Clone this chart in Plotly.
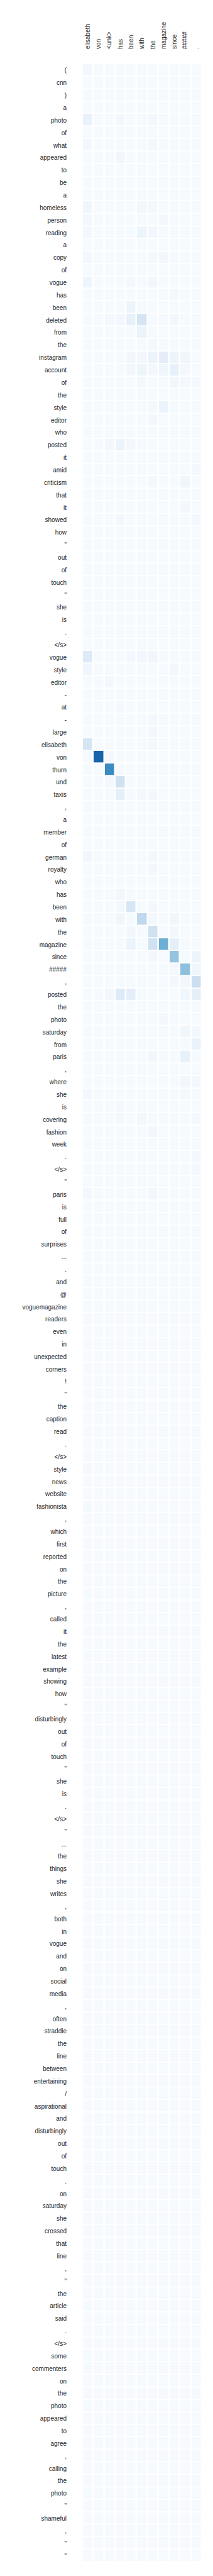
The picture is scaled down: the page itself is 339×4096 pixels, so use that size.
import plotly.graph_objects as go

# Summary tokens (columns) and article tokens (rows)
summary_tokens = ["elisabeth", "von", "&lt;unk&gt;", "has", "been", "with", "the",
                  "magazine", "since", "#####", "."]

article_tokens = [
    "(", "cnn", ")", "a", "photo", "of",
    "what", "appeared", "to", "be", "a", "homeless", "person", "reading", "a", "copy", "of",
    "vogue", "has", "been", "deleted", "from", "the", "instagram", "account",
    "of", "the", "style", "editor", "who", "posted", "it", "amid", "criticism", "that", "it",
    "showed", "how", "\"", "out", "of", "touch", "\"",
    "she", "is", ".", "&lt;/s&gt;", "vogue", "style", "editor", "-", "at", "-", "large",
    "elisabeth", "von", "thurn", "und", "taxis", ",", "a", "member",
    "of", "german", "royalty", "who", "has", "been", "with", "the", "magazine", "since",
    "#####", ",", "posted", "the", "photo", "saturday", "from", "paris", ",",
    "where", "she", "is", "covering", "fashion", "week", ".", "&lt;/s&gt;", "\"", "paris",
    "is", "full", "of", "surprises", "...", ".", "and", "@", "voguemagazine",
    "readers", "even", "in", "unexpected", "corners", "!", "\"", "the", "caption", "read",
    ".", "&lt;/s&gt;", "style", "news", "website", "fashionista", ",", "which",
    "first", "reported", "on", "the", "picture", ",", "called", "it", "the", "latest",
    "example", "showing", "how", "\"", "disturbingly", "out", "of", "touch", "\"",
    "she", "is", ".", "&lt;/s&gt;", "\"", "...", "the", "things", "she", "writes", ",",
    "both", "in", "vogue", "and", "on", "social", "media", ",",
    "often", "straddle", "the", "line", "between", "entertaining", "/", "aspirational",
    "and", "disturbingly", "out", "of", "touch", ".", "on", "saturday", "she", "crossed",
    "that", "line", ",", "\"", "the", "article", "said", ".", "&lt;/s&gt;",
    "some", "commenters", "on", "the", "photo", "appeared", "to", "agree", ",", "calling",
    "the", "photo", "\"", "shameful", ",", "\"", "\"",
]

# attention weights, in thousandths (one row per article token)
attention = [
    [20, 10, 10, 10, 10, 10, 10, 10, 10, 10, 10],   # (
    [10, 10, 10, 10, 10, 10, 10, 10, 10, 10, 10],   # cnn
    [10, 10, 10, 10, 10, 10, 10, 10, 10, 10, 10],   # )
    [10, 10, 10, 10, 10, 10, 10, 10, 10, 10, 10],   # a
    [70, 10, 10, 20, 10, 10, 20, 10, 10, 10, 10],   # photo
    [10, 10, 10, 10, 10, 10, 10, 10, 10, 10, 10],   # of
    [20, 10, 10, 10, 10, 10, 20, 10, 10, 10, 10],   # what
    [10, 10, 10, 30, 10, 10, 10, 10, 10, 10, 10],   # appeared
    [10, 10, 10, 10, 10, 10, 10, 10, 10, 10, 10],   # to
    [10, 10, 10, 10, 10, 10, 10, 10, 10, 10, 10],   # be
    [10, 10, 10, 10, 10, 10, 10, 10, 10, 10, 10],   # a
    [40, 10, 10, 10, 10, 30, 20, 10, 10, 10, 10],   # homeless
    [20, 10, 10, 10, 10, 10, 10, 20, 10, 10, 10],   # person
    [20, 10, 10, 10, 10, 50, 30, 10, 10, 10, 10],   # reading
    [10, 10, 10, 10, 10, 10, 10, 10, 10, 10, 10],   # a
    [20, 10, 10, 10, 10, 10, 20, 30, 10, 10, 10],   # copy
    [10, 10, 10, 10, 10, 10, 10, 10, 10, 10, 10],   # of
    [50, 10, 10, 10, 20, 10, 30, 10, 10, 10, 10],   # vogue
    [10, 10, 10, 10, 10, 10, 10, 10, 20, 10, 10],   # has
    [10, 10, 10, 10, 50, 10, 10, 10, 10, 10, 10],   # been
    [10, 10, 20, 30, 80, 170, 10, 10, 30, 10, 10],  # deleted
    [10, 10, 10, 10, 10, 60, 10, 10, 10, 10, 10],   # from
    [10, 10, 10, 10, 10, 10, 20, 10, 10, 10, 10],   # the
    [10, 10, 10, 10, 30, 30, 60, 100, 50, 40, 10],  # instagram
    [10, 10, 10, 10, 30, 50, 20, 40, 80, 20, 10],   # account
    [10, 10, 10, 10, 10, 20, 10, 10, 40, 20, 20],   # of
    [10, 10, 10, 10, 10, 10, 10, 10, 10, 10, 10],   # the
    [10, 10, 10, 10, 10, 10, 20, 60, 10, 10, 10],   # style
    [10, 10, 10, 10, 10, 10, 20, 10, 10, 10, 10],   # editor
    [10, 10, 10, 10, 10, 10, 10, 10, 10, 10, 10],   # who
    [10, 10, 30, 60, 20, 10, 10, 10, 10, 10, 10],   # posted
    [10, 10, 10, 10, 10, 10, 10, 10, 10, 10, 10],   # it
    [10, 10, 10, 10, 10, 10, 10, 10, 10, 10, 20],   # amid
    [10, 10, 10, 10, 10, 10, 20, 10, 10, 40, 10],   # criticism
    [10, 10, 10, 10, 10, 10, 10, 10, 10, 10, 10],   # that
    [10, 10, 10, 10, 10, 10, 10, 10, 10, 20, 10],   # it
    [10, 10, 10, 20, 10, 10, 10, 10, 10, 10, 20],   # showed
    [10, 10, 10, 10, 10, 10, 10, 10, 10, 10, 10],   # how
    [10, 10, 10, 10, 10, 10, 10, 10, 10, 10, 10],   # "
    [10, 10, 10, 10, 10, 10, 10, 10, 10, 10, 10],   # out
    [10, 10, 10, 10, 10, 10, 10, 10, 10, 10, 10],   # of
    [10, 10, 10, 10, 10, 10, 10, 10, 10, 10, 10],   # touch
    [10, 10, 10, 10, 10, 10, 10, 10, 10, 10, 10],   # "
    [10, 10, 10, 10, 10, 10, 10, 10, 10, 10, 10],   # she
    [10, 10, 10, 10, 10, 10, 10, 10, 10, 10, 10],   # is
    [10, 10, 10, 10, 10, 10, 10, 10, 10, 10, 10],   # .
    [10, 10, 10, 10, 10, 10, 10, 10, 10, 10, 10],   # </s>
    [130, 10, 10, 10, 20, 30, 40, 10, 10, 10, 10],  # vogue
    [40, 10, 10, 10, 10, 10, 10, 10, 30, 10, 10],   # style
    [10, 10, 20, 10, 10, 10, 10, 10, 10, 10, 10],   # editor
    [10, 10, 10, 10, 10, 10, 10, 10, 10, 10, 10],   # -
    [10, 10, 10, 20, 10, 10, 10, 10, 10, 10, 10],   # at
    [10, 10, 10, 10, 10, 10, 20, 10, 10, 10, 10],   # -
    [10, 10, 10, 10, 10, 10, 20, 10, 10, 10, 10],   # large
    [170, 10, 10, 10, 10, 10, 20, 10, 10, 10, 10],  # elisabeth
    [10, 800, 20, 10, 10, 10, 10, 10, 10, 10, 10],  # von
    [10, 10, 650, 10, 10, 10, 10, 10, 10, 10, 10],  # thurn
    [10, 10, 20, 200, 10, 10, 10, 10, 10, 10, 10],  # und
    [10, 10, 10, 90, 10, 20, 20, 10, 10, 10, 10],   # taxis
    [10, 10, 10, 10, 10, 10, 10, 10, 10, 10, 10],   # ,
    [10, 10, 10, 10, 10, 10, 10, 10, 10, 10, 10],   # a
    [10, 10, 10, 10, 10, 10, 10, 10, 10, 10, 10],   # member
    [10, 10, 10, 10, 10, 10, 10, 10, 10, 10, 10],   # of
    [30, 10, 10, 10, 10, 10, 20, 10, 10, 10, 10],   # german
    [10, 10, 10, 10, 10, 10, 20, 10, 10, 10, 10],   # royalty
    [10, 10, 10, 10, 10, 10, 10, 10, 10, 10, 10],   # who
    [10, 10, 10, 30, 10, 10, 10, 10, 10, 10, 10],   # has
    [10, 10, 10, 20, 160, 10, 20, 10, 10, 10, 10],  # been
    [10, 10, 10, 40, 10, 270, 20, 10, 40, 10, 10],  # with
    [10, 10, 10, 10, 30, 10, 200, 10, 20, 10, 10],  # the
    [10, 10, 10, 10, 60, 10, 200, 500, 90, 10, 10], # magazine
    [10, 10, 10, 10, 10, 10, 20, 10, 400, 10, 50],  # since
    [10, 10, 10, 10, 10, 10, 10, 10, 20, 420, 40],  # #####
    [10, 10, 10, 10, 10, 10, 10, 10, 20, 30, 220],  # ,
    [10, 10, 30, 130, 100, 10, 10, 10, 10, 40, 90], # posted
    [10, 10, 10, 10, 10, 10, 10, 10, 10, 10, 10],   # the
    [10, 10, 10, 10, 10, 10, 10, 20, 10, 10, 10],   # photo
    [10, 10, 10, 10, 10, 10, 10, 10, 10, 40, 20],   # saturday
    [10, 10, 10, 10, 10, 10, 10, 10, 10, 10, 70],   # from
    [10, 10, 10, 10, 10, 10, 30, 10, 10, 80, 10],   # paris
    [10, 10, 10, 10, 10, 10, 10, 10, 10, 10, 10],   # ,
    [10, 10, 10, 10, 10, 10, 10, 10, 10, 30, 20],   # where
    [20, 10, 10, 10, 10, 10, 10, 10, 10, 20, 10],   # she
    [10, 10, 10, 20, 10, 10, 10, 10, 10, 10, 10],   # is
    [10, 10, 10, 20, 10, 30, 10, 10, 10, 10, 20],   # covering
    [10, 10, 10, 10, 10, 10, 30, 10, 10, 10, 10],   # fashion
    [10, 10, 10, 10, 10, 10, 10, 10, 10, 10, 10],   # week
    [10, 10, 10, 10, 10, 10, 10, 10, 10, 10, 20],   # .
    [10, 10, 10, 10, 10, 10, 10, 10, 10, 10, 20],   # </s>
    [10, 10, 10, 10, 10, 10, 10, 10, 10, 10, 10],   # "
    [20, 10, 10, 10, 10, 10, 30, 10, 10, 10, 10],   # paris
    [10, 10, 10, 10, 10, 10, 10, 10, 10, 10, 10],   # is
    [10, 10, 10, 10, 10, 10, 10, 10, 10, 10, 10],   # full
    [10, 10, 10, 10, 10, 10, 10, 10, 10, 10, 10],   # of
    [10, 10, 10, 10, 10, 10, 10, 10, 10, 10, 10],   # surprises
    [10, 10, 10, 10, 10, 10, 10, 10, 10, 10, 10],   # ...
    [10, 10, 10, 10, 10, 10, 10, 10, 10, 10, 10],   # .
    [10, 10, 10, 10, 10, 10, 10, 10, 10, 10, 10],   # and
    [10, 10, 10, 10, 10, 10, 10, 10, 10, 10, 10],   # @
    [10, 10, 10, 10, 10, 10, 10, 10, 10, 10, 10],   # voguemagazine
    [6, 6, 6, 12, 6, 6, 6, 6, 6, 6, 6],             # readers
    [6, 6, 6, 6, 6, 6, 6, 6, 6, 6, 6],              # even
    [6, 6, 6, 6, 6, 6, 6, 6, 6, 6, 6],              # in
    [6, 6, 6, 6, 6, 6, 6, 6, 6, 6, 6],              # unexpected
    [6, 6, 6, 6, 6, 6, 6, 6, 6, 6, 6],              # corners
    [6, 6, 6, 6, 6, 6, 6, 6, 6, 6, 6],              # !
    [6, 6, 6, 6, 6, 6, 6, 6, 6, 6, 6],              # "
    [6, 6, 6, 6, 6, 6, 6, 6, 6, 6, 6],              # the
    [6, 6, 6, 6, 6, 6, 6, 6, 6, 6, 6],              # caption
    [6, 6, 6, 6, 6, 6, 6, 6, 6, 6, 6],              # read
    [6, 6, 6, 6, 6, 6, 6, 6, 6, 6, 6],              # .
    [6, 6, 6, 6, 6, 6, 6, 6, 6, 6, 6],              # </s>
    [12, 6, 6, 6, 6, 6, 6, 6, 6, 6, 6],             # style
    [6, 6, 6, 6, 6, 6, 6, 6, 6, 6, 6],              # news
    [6, 6, 6, 6, 6, 6, 6, 6, 6, 6, 6],              # website
    [15, 6, 6, 6, 6, 6, 6, 6, 6, 6, 6],             # fashionista
    [6, 6, 6, 6, 6, 6, 6, 6, 6, 6, 6],              # ,
    [6, 6, 6, 6, 6, 6, 6, 6, 6, 6, 6],              # which
    [6, 6, 6, 6, 6, 6, 6, 6, 6, 6, 6],              # first
    [6, 6, 6, 10, 10, 6, 6, 6, 6, 6, 6],            # reported
    [6, 6, 6, 6, 6, 6, 6, 6, 6, 6, 6],              # on
    [6, 6, 6, 6, 6, 6, 6, 6, 6, 6, 6],              # the
    [10, 6, 6, 6, 6, 6, 6, 9, 6, 9, 6],             # picture
    [6, 6, 6, 6, 6, 6, 6, 6, 6, 6, 6],              # ,
    [6, 6, 6, 6, 6, 6, 6, 6, 6, 6, 6],              # called
    [6, 6, 6, 6, 6, 6, 6, 6, 6, 6, 6],              # it
    [6, 6, 6, 6, 6, 6, 6, 6, 6, 6, 6],              # the
    [10, 6, 6, 6, 6, 6, 6, 9, 6, 6, 6],             # latest
    [6, 6, 6, 6, 6, 6, 6, 6, 6, 6, 6],              # example
    [6, 6, 6, 6, 6, 6, 6, 6, 6, 6, 6],              # showing
    [6, 6, 6, 6, 6, 6, 6, 6, 6, 6, 6],              # how
    [6, 6, 6, 6, 6, 6, 6, 6, 6, 6, 6],              # "
    [6, 6, 6, 6, 6, 6, 6, 6, 6, 6, 6],              # disturbingly
    [6, 6, 6, 6, 6, 6, 6, 6, 6, 6, 6],              # out
    [6, 6, 6, 6, 6, 6, 6, 6, 6, 6, 6],              # of
    [6, 6, 6, 6, 6, 6, 6, 6, 6, 6, 6],              # touch
    [6, 6, 6, 6, 6, 6, 6, 6, 6, 6, 6],              # "
    [6, 6, 6, 6, 6, 6, 6, 6, 6, 6, 6],              # she
    [6, 6, 6, 6, 6, 6, 6, 6, 6, 6, 6],              # is
    [6, 6, 6, 6, 6, 6, 6, 6, 6, 6, 6],              # .
    [6, 6, 6, 6, 6, 6, 6, 6, 6, 6, 6],              # </s>
    [6, 6, 6, 6, 6, 6, 6, 6, 6, 6, 6],              # "
    [6, 6, 6, 6, 6, 6, 6, 6, 6, 6, 6],              # ...
    [6, 6, 6, 6, 6, 6, 6, 6, 6, 6, 6],              # the
    [6, 6, 6, 6, 6, 6, 6, 6, 6, 6, 6],              # things
    [6, 6, 6, 6, 6, 6, 6, 6, 6, 6, 6],              # she
    [6, 6, 6, 9, 6, 6, 6, 6, 6, 6, 6],              # writes
    [6, 6, 6, 6, 6, 6, 6, 6, 6, 6, 6],              # ,
    [6, 6, 6, 6, 6, 6, 6, 6, 6, 6, 6],              # both
    [6, 6, 6, 6, 6, 6, 6, 6, 6, 6, 6],              # in
    [6, 6, 6, 6, 6, 6, 9, 6, 6, 9, 6],              # vogue
    [6, 6, 6, 6, 6, 6, 6, 6, 6, 6, 6],              # and
    [6, 6, 6, 6, 6, 6, 6, 6, 6, 6, 6],              # on
    [6, 6, 6, 6, 6, 6, 6, 6, 6, 6, 6],              # social
    [6, 6, 6, 6, 6, 6, 6, 6, 6, 6, 6],              # media
    [6, 6, 6, 6, 6, 6, 6, 6, 6, 6, 6],              # ,
    [6, 6, 6, 6, 6, 6, 6, 6, 6, 6, 6],              # often
    [6, 6, 6, 6, 6, 6, 6, 6, 6, 6, 6],              # straddle
    [6, 6, 6, 6, 6, 6, 6, 6, 6, 6, 6],              # the
    [6, 6, 6, 6, 6, 6, 6, 6, 6, 6, 6],              # line
    [6, 6, 6, 6, 6, 6, 6, 6, 6, 6, 6],              # between
    [6, 6, 6, 6, 6, 6, 6, 6, 6, 6, 6],              # entertaining
    [6, 6, 6, 6, 6, 6, 6, 6, 6, 6, 6],              # /
    [6, 6, 6, 6, 6, 6, 6, 6, 6, 6, 6],              # aspirational
    [6, 6, 6, 6, 6, 6, 6, 6, 6, 6, 6],              # and
    [6, 6, 6, 6, 6, 6, 6, 6, 6, 6, 6],              # disturbingly
    [6, 6, 6, 6, 6, 6, 6, 6, 6, 6, 6],              # out
    [6, 6, 6, 6, 6, 6, 6, 6, 6, 6, 6],              # of
    [6, 6, 6, 6, 6, 6, 6, 6, 6, 6, 6],              # touch
    [6, 6, 6, 6, 6, 6, 6, 6, 6, 6, 6],              # .
    [6, 6, 6, 6, 6, 6, 6, 6, 6, 6, 6],              # on
    [6, 6, 6, 6, 6, 6, 6, 6, 6, 6, 6],              # saturday
    [6, 6, 6, 6, 6, 6, 6, 6, 6, 6, 6],              # she
    [6, 6, 6, 6, 6, 6, 6, 6, 6, 6, 6],              # crossed
    [6, 6, 6, 6, 6, 6, 6, 6, 6, 6, 6],              # that
    [6, 6, 6, 6, 6, 6, 6, 6, 6, 6, 6],              # line
    [6, 6, 6, 6, 6, 6, 6, 6, 6, 6, 6],              # ,
    [6, 6, 6, 6, 6, 6, 6, 6, 6, 6, 6],              # "
    [6, 6, 6, 6, 6, 6, 6, 6, 6, 6, 6],              # the
    [10, 6, 6, 6, 9, 6, 6, 6, 6, 6, 6],             # article
    [6, 6, 6, 6, 6, 6, 6, 6, 6, 6, 6],              # said
    [6, 6, 6, 6, 6, 6, 6, 6, 6, 6, 6],              # .
    [6, 6, 6, 6, 6, 6, 6, 6, 6, 6, 6],              # </s>
    [9, 6, 6, 6, 6, 6, 6, 6, 6, 6, 6],              # some
    [10, 6, 6, 6, 6, 6, 9, 6, 6, 6, 6],             # commenters
    [6, 6, 6, 6, 6, 6, 6, 6, 6, 6, 6],              # on
    [6, 6, 6, 6, 6, 6, 6, 6, 6, 6, 6],              # the
    [10, 6, 6, 6, 6, 6, 6, 6, 6, 6, 6],             # photo
    [6, 6, 6, 6, 6, 6, 6, 6, 6, 6, 6],              # appeared
    [6, 6, 6, 6, 6, 6, 6, 6, 6, 6, 6],              # to
    [6, 6, 6, 6, 6, 6, 6, 6, 6, 6, 6],              # agree
    [6, 6, 6, 6, 6, 6, 6, 6, 6, 6, 6],              # ,
    [6, 6, 6, 6, 6, 6, 6, 6, 6, 6, 6],              # calling
    [6, 6, 6, 6, 6, 6, 6, 6, 6, 6, 6],              # the
    [10, 6, 6, 6, 6, 6, 6, 6, 6, 6, 6],             # photo
    [6, 6, 6, 6, 6, 6, 6, 6, 6, 6, 6],              # "
    [6, 6, 6, 6, 6, 6, 6, 6, 6, 6, 6],              # shameful
    [6, 6, 6, 6, 6, 6, 6, 6, 6, 6, 6],              # ,
    [6, 6, 6, 6, 6, 6, 6, 6, 6, 6, 6],              # "
    [6, 6, 6, 6, 6, 6, 6, 6, 6, 6, 6],              # "
]

col_idx = list(range(len(summary_tokens)))
row_idx = list(range(len(article_tokens)))

FONT = "Liberation Sans, Arial, Helvetica, sans-serif"
TXT = "#262626"

fig = go.Figure(
    go.Heatmap(
        z=attention,
        x=col_idx,
        y=row_idx,
        colorscale="Blues",
        zmin=0,
        zmax=1000,
        showscale=False,
        xgap=2.5,
        ygap=1.7,
        hoverinfo="skip",
    )
)

fig.update_layout(
    width=339,
    height=4096,
    margin=dict(l=123, r=26, t=94, b=30, pad=0),
    paper_bgcolor="white",
    plot_bgcolor="white",
    font=dict(family=FONT, size=10, color=TXT),
)

fig.update_xaxes(
    side="top",
    range=[-0.5, len(summary_tokens) - 0.5],
    tickmode="array",
    tickvals=col_idx,
    ticktext=summary_tokens,
    tickangle=-90,
    ticks="outside",
    ticklen=21,
    tickcolor="rgba(0,0,0,0)",
    showgrid=False,
    zeroline=False,
    showline=False,
    tickfont=dict(family=FONT, size=10, color=TXT),
)

fig.update_yaxes(
    range=[len(article_tokens) - 0.5, -0.5],
    tickmode="array",
    tickvals=row_idx,
    ticktext=article_tokens,
    ticks="outside",
    ticklen=22,
    tickcolor="rgba(0,0,0,0)",
    showgrid=False,
    zeroline=False,
    showline=False,
    tickfont=dict(family=FONT, size=10, color=TXT),
)

fig.write_html("out.html")
